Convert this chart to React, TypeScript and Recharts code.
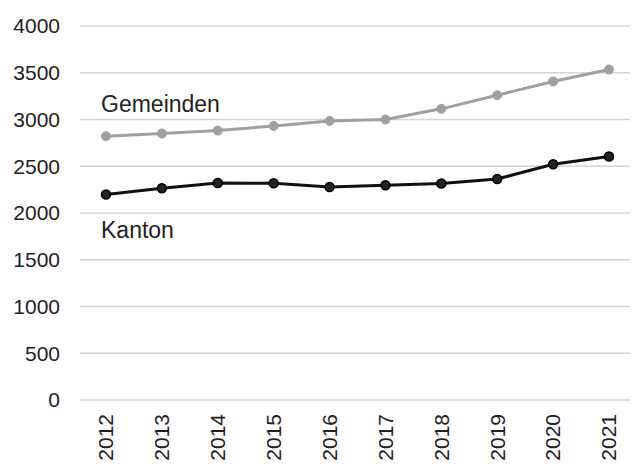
import { LineChart, Line, XAxis, YAxis, CartesianGrid } from 'recharts';

const years = ['2012', '2013', '2014', '2015', '2016', '2017', '2018', '2019', '2020', '2021'];
const gemeinden = [2821, 2850, 2882, 2931, 2985, 3000, 3114, 3260, 3407, 3535];
const kanton = [2197, 2264, 2321, 2318, 2278, 2296, 2315, 2364, 2521, 2604];
const yTicks = [0, 500, 1000, 1500, 2000, 2500, 3000, 3500, 4000];

const data = years.map((year, i) => ({ year, gemeinden: gemeinden[i], kanton: kanton[i] }));

const FONT = '"Liberation Sans", Arial, Helvetica, sans-serif';

const YearTick = (props: any) => {
  const { x, y, payload } = props;
  return (
    <g transform={`translate(${x},${y + 6})`}>
      <text transform="rotate(-90)" textAnchor="end" dy="0.35em" fontSize={21} fill="#222" fontFamily={FONT}>
        {payload.value}
      </text>
    </g>
  );
};

const seriesLabel = (text: string, dy: number) => (props: any) => {
  const { x, y, index } = props;
  if (index !== 0) return null;
  return (
    <text x={x - 5} y={y + dy} fontSize={23} fill="#222" fontFamily={FONT} textAnchor="start">
      {text}
    </text>
  );
};

export default function App() {
  return (
    <div style={{ position: 'absolute', left: 0, top: 0, width: 635, height: 464, background: '#fff' }}>
      <LineChart width={635} height={464} data={data} margin={{ top: 26, right: 5, bottom: 0, left: 0 }}>
        <CartesianGrid vertical={false} stroke="#d4d4d4" strokeWidth={1.5} />
        <XAxis
          dataKey="year"
          axisLine={false}
          tickLine={false}
          height={64}
          interval={0}
          padding={{ left: 26, right: 21 }}
          tick={<YearTick />}
        />
        <YAxis
          domain={[0, 4000]}
          ticks={yTicks}
          axisLine={false}
          tickLine={false}
          width={80}
          tickMargin={14}
          interval={0}
          tick={{ fontSize: 21, fill: '#222', fontFamily: FONT }}
        />
        <Line
          dataKey="gemeinden"
          stroke="#a0a0a0"
          strokeWidth={3}
          dot={{ r: 4.5, fill: '#a0a0a0', stroke: '#a0a0a0', strokeWidth: 1 }}
          isAnimationActive={false}
          label={seriesLabel('Gemeinden', -24)}
        />
        <Line
          dataKey="kanton"
          stroke="#111"
          strokeWidth={3}
          dot={{ r: 4.5, fill: '#222', stroke: '#000', strokeWidth: 1.5 }}
          isAnimationActive={false}
          label={seriesLabel('Kanton', 43)}
        />
      </LineChart>
    </div>
  );
}
